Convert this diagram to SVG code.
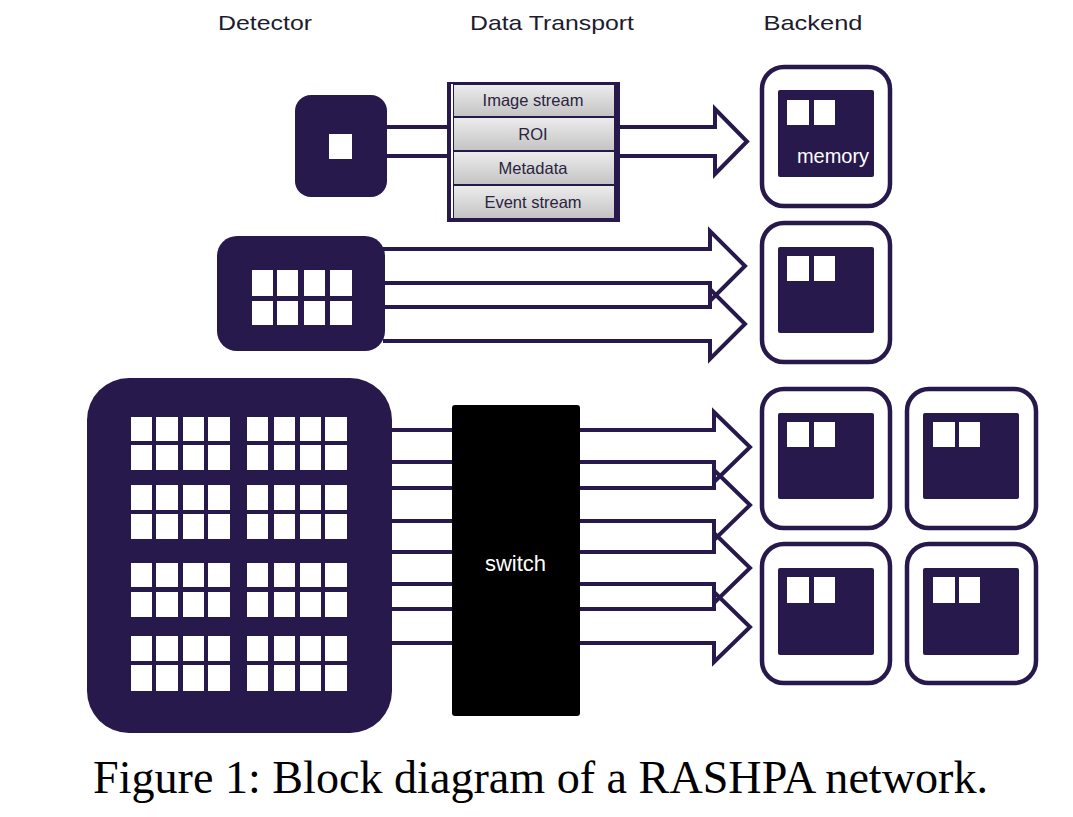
<svg xmlns="http://www.w3.org/2000/svg" width="1073" height="817" viewBox="0 0 1073 817">
<defs>
<linearGradient id="cellg" x1="0" y1="0" x2="0" y2="1">
<stop offset="0" stop-color="#ececec"/>
<stop offset="1" stop-color="#c4c4c4"/>
</linearGradient>
</defs>
<style>
.title{font-family:"Liberation Sans",Arial,sans-serif;font-size:21px;fill:#1c1b30;text-anchor:middle}
.cell{font-family:"Liberation Sans",Arial,sans-serif;font-size:16.5px;fill:#2a2440;text-anchor:middle}
.dark{fill:#27194b}
.pix{fill:#ffffff}
.outer{fill:#ffffff;stroke:#27194b;stroke-width:4.5}
.arrow{fill:none;stroke:#27194b;stroke-width:4;stroke-linejoin:miter}
.link{stroke:#27194b;stroke-width:4}
.wtext{font-family:"Liberation Sans",Arial,sans-serif;fill:#ffffff}
.caption{font-family:"Liberation Serif","Times New Roman",serif;font-size:47px;fill:#000000}
</style>
<rect width="1073" height="817" fill="#ffffff"/>

<g id="titles">
<text class="title" x="265" y="30" textLength="94" lengthAdjust="spacingAndGlyphs">Detector</text>
<text class="title" x="552" y="30" textLength="164" lengthAdjust="spacingAndGlyphs">Data Transport</text>
<text class="title" x="813" y="30" textLength="99" lengthAdjust="spacingAndGlyphs">Backend</text>
</g>

<g id="connectors">
<line class="link" x1="385" y1="127" x2="449" y2="127"/>
<line class="link" x1="385" y1="156" x2="449" y2="156"/>
<path class="arrow" d="M620,127 H715 V109 L747,141.5 L715,174 V156 H620"/>
<path class="arrow" d="M383,249 H710 V231 L745,266 L710,301 V283 H383"/>
<path class="arrow" d="M383,307 H710 V289 L745,324 L710,359 V341 H383"/>
<line class="link" x1="390" y1="430" x2="454" y2="430"/>
<line class="link" x1="390" y1="462" x2="454" y2="462"/>
<line class="link" x1="390" y1="488" x2="454" y2="488"/>
<line class="link" x1="390" y1="521" x2="454" y2="521"/>
<line class="link" x1="390" y1="552" x2="454" y2="552"/>
<line class="link" x1="390" y1="584" x2="454" y2="584"/>
<line class="link" x1="390" y1="609" x2="454" y2="609"/>
<line class="link" x1="390" y1="643" x2="454" y2="643"/>
<path class="arrow" d="M578,430 H714 V412 L750,447 L714,482 V462 H578"/>
<path class="arrow" d="M578,488 H714 V470 L750,505 L714,540 V521 H578"/>
<path class="arrow" d="M578,552 H714 V533 L750,568 L714,603 V584 H578"/>
<path class="arrow" d="M578,609 H714 V592 L750,627 L714,662 V643 H578"/>
</g>

<g id="detector1">
<rect class="dark" x="295" y="95" width="92" height="102" rx="16"/>
<rect class="pix" x="329" y="134" width="23" height="25"/>
</g>

<g id="detector2">
<rect class="dark" x="217" y="236" width="168" height="115" rx="20"/>
<rect class="pix" x="252" y="270" width="21" height="26"/>
<rect class="pix" x="277" y="270" width="21" height="26"/>
<rect class="pix" x="304" y="270" width="21" height="26"/>
<rect class="pix" x="330" y="270" width="22" height="26"/>
<rect class="pix" x="252" y="301" width="21" height="24"/>
<rect class="pix" x="277" y="301" width="21" height="24"/>
<rect class="pix" x="304" y="301" width="21" height="24"/>
<rect class="pix" x="330" y="301" width="22" height="24"/>
</g>

<g id="detector3">
<rect class="dark" x="87" y="378" width="305" height="355" rx="42"/>
<g id="det3-pixels">
<g>
<rect class="pix" x="131" y="417" width="21" height="24"/><rect class="pix" x="156" y="417" width="22" height="24"/><rect class="pix" x="183" y="417" width="21" height="24"/><rect class="pix" x="208" y="417" width="22" height="24"/>
<rect class="pix" x="131" y="445" width="21" height="25"/><rect class="pix" x="156" y="445" width="22" height="25"/><rect class="pix" x="183" y="445" width="21" height="25"/><rect class="pix" x="208" y="445" width="22" height="25"/>
<rect class="pix" x="247" y="417" width="21" height="24"/><rect class="pix" x="274" y="417" width="21" height="24"/><rect class="pix" x="300" y="417" width="21" height="24"/><rect class="pix" x="325" y="417" width="22" height="24"/>
<rect class="pix" x="247" y="445" width="21" height="25"/><rect class="pix" x="274" y="445" width="21" height="25"/><rect class="pix" x="300" y="445" width="21" height="25"/><rect class="pix" x="325" y="445" width="22" height="25"/>
</g>
<g>
<rect class="pix" x="131" y="485" width="21" height="25"/><rect class="pix" x="156" y="485" width="22" height="25"/><rect class="pix" x="183" y="485" width="21" height="25"/><rect class="pix" x="208" y="485" width="22" height="25"/>
<rect class="pix" x="131" y="514" width="21" height="25"/><rect class="pix" x="156" y="514" width="22" height="25"/><rect class="pix" x="183" y="514" width="21" height="25"/><rect class="pix" x="208" y="514" width="22" height="25"/>
<rect class="pix" x="247" y="485" width="21" height="25"/><rect class="pix" x="274" y="485" width="21" height="25"/><rect class="pix" x="300" y="485" width="21" height="25"/><rect class="pix" x="325" y="485" width="22" height="25"/>
<rect class="pix" x="247" y="514" width="21" height="25"/><rect class="pix" x="274" y="514" width="21" height="25"/><rect class="pix" x="300" y="514" width="21" height="25"/><rect class="pix" x="325" y="514" width="22" height="25"/>
</g>
<g>
<rect class="pix" x="131" y="563" width="21" height="24"/><rect class="pix" x="156" y="563" width="22" height="24"/><rect class="pix" x="183" y="563" width="21" height="24"/><rect class="pix" x="208" y="563" width="22" height="24"/>
<rect class="pix" x="131" y="592" width="21" height="25"/><rect class="pix" x="156" y="592" width="22" height="25"/><rect class="pix" x="183" y="592" width="21" height="25"/><rect class="pix" x="208" y="592" width="22" height="25"/>
<rect class="pix" x="247" y="563" width="21" height="24"/><rect class="pix" x="274" y="563" width="21" height="24"/><rect class="pix" x="300" y="563" width="21" height="24"/><rect class="pix" x="325" y="563" width="22" height="24"/>
<rect class="pix" x="247" y="592" width="21" height="25"/><rect class="pix" x="274" y="592" width="21" height="25"/><rect class="pix" x="300" y="592" width="21" height="25"/><rect class="pix" x="325" y="592" width="22" height="25"/>
</g>
<g>
<rect class="pix" x="131" y="636" width="21" height="25"/><rect class="pix" x="156" y="636" width="22" height="25"/><rect class="pix" x="183" y="636" width="21" height="25"/><rect class="pix" x="208" y="636" width="22" height="25"/>
<rect class="pix" x="131" y="665" width="21" height="26"/><rect class="pix" x="156" y="665" width="22" height="26"/><rect class="pix" x="183" y="665" width="21" height="26"/><rect class="pix" x="208" y="665" width="22" height="26"/>
<rect class="pix" x="247" y="636" width="21" height="25"/><rect class="pix" x="274" y="636" width="21" height="25"/><rect class="pix" x="300" y="636" width="21" height="25"/><rect class="pix" x="325" y="636" width="22" height="25"/>
<rect class="pix" x="247" y="665" width="21" height="26"/><rect class="pix" x="274" y="665" width="21" height="26"/><rect class="pix" x="300" y="665" width="21" height="26"/><rect class="pix" x="325" y="665" width="22" height="26"/>
</g>
</g>
</g>

<g id="transport">
<rect class="dark" x="447" y="82" width="173" height="140"/>
<rect x="451" y="84" width="2" height="134" fill="#ffffff"/>
<rect x="454" y="85" width="160" height="31" fill="url(#cellg)"/>
<rect x="454" y="118" width="160" height="32" fill="url(#cellg)"/>
<rect x="454" y="152" width="160" height="32" fill="url(#cellg)"/>
<rect x="454" y="186" width="160" height="32" fill="url(#cellg)"/>
<text class="cell" x="533" y="106">Image stream</text>
<text class="cell" x="533" y="140">ROI</text>
<text class="cell" x="533" y="174">Metadata</text>
<text class="cell" x="533" y="208">Event stream</text>
</g>

<g id="switch">
<rect x="452" y="405" width="128" height="311" rx="3" fill="#000000"/>
<text class="wtext" x="515.5" y="571" font-size="22" text-anchor="middle">switch</text>
</g>

<g id="backend1">
<rect class="outer" x="762" y="67" width="128" height="139" rx="22"/>
<rect class="dark" x="778" y="90" width="96" height="87" rx="2"/>
<rect class="pix" x="787" y="100" width="22" height="25"/>
<rect class="pix" x="814" y="100" width="21" height="25"/>
<text class="wtext" x="833" y="163" font-size="20" text-anchor="middle">memory</text>
</g>

<g id="backend2">
<rect class="outer" x="762" y="223" width="128" height="139" rx="22"/>
<rect class="dark" x="778" y="247" width="96" height="86" rx="2"/>
<rect class="pix" x="787" y="256" width="22" height="25"/>
<rect class="pix" x="814" y="256" width="21" height="25"/>
</g>

<g id="backend3">
<rect class="outer" x="762" y="389" width="128" height="139" rx="22"/>
<rect class="dark" x="778" y="413" width="96" height="86" rx="2"/>
<rect class="pix" x="787" y="422" width="22" height="25"/>
<rect class="pix" x="814" y="422" width="21" height="25"/>
</g>

<g id="backend4">
<rect class="outer" x="907" y="389" width="129" height="139" rx="22"/>
<rect class="dark" x="923" y="413" width="96" height="86" rx="2"/>
<rect class="pix" x="933" y="422" width="22" height="25"/>
<rect class="pix" x="959" y="422" width="21" height="25"/>
</g>

<g id="backend5">
<rect class="outer" x="762" y="544" width="128" height="139" rx="22"/>
<rect class="dark" x="778" y="568" width="96" height="87" rx="2"/>
<rect class="pix" x="787" y="577" width="22" height="26"/>
<rect class="pix" x="814" y="577" width="21" height="26"/>
</g>

<g id="backend6">
<rect class="outer" x="907" y="544" width="129" height="139" rx="22"/>
<rect class="dark" x="923" y="568" width="96" height="87" rx="2"/>
<rect class="pix" x="933" y="577" width="22" height="26"/>
<rect class="pix" x="959" y="577" width="21" height="26"/>
</g>

<g id="caption">
<text class="caption" x="93" y="793" textLength="895" lengthAdjust="spacingAndGlyphs">Figure 1: Block diagram of a RASHPA network.</text>
</g>
</svg>
